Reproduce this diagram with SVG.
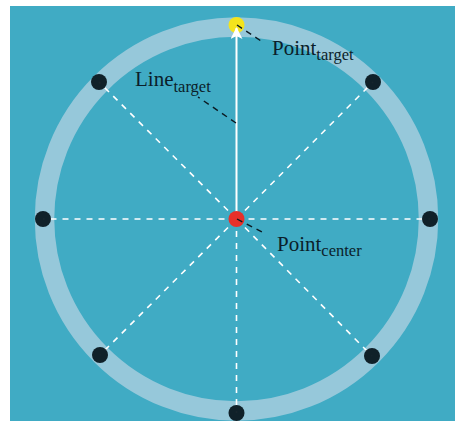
<svg xmlns="http://www.w3.org/2000/svg" width="455" height="421" viewBox="0 0 455 421">
<defs>
<style>
.spoke{stroke:#ffffff;stroke-width:1.6;stroke-dasharray:6 6;fill:none}
.lead{stroke:#0b1a22;stroke-width:1.4;stroke-dasharray:6 5;fill:none}
.dot{fill:#04121a;fill-opacity:0.92}
.lbl{font-family:"Liberation Serif","DejaVu Serif",serif;font-size:21px;fill:#0b1e2a}
.sub{font-size:16.5px}
</style>
<marker id="ah" viewBox="0 0 12 12" refX="11" refY="6" markerWidth="12" markerHeight="12" markerUnits="userSpaceOnUse" orient="auto">
<path d="M0,0 L12,6 L0,12 L3,6 Z" fill="#ffffff"/>
</marker>
</defs>
<rect x="10" y="6" width="445" height="415" fill="#40abc4"/>
<circle cx="236.5" cy="219" r="192" fill="none" stroke="#96c8da" stroke-width="19.5"/>
<g id="connectors">
<line class="spoke" x1="236.5" y1="219" x2="43" y2="219"/>
<line class="spoke" x1="236.5" y1="219" x2="430" y2="219"/>
<line class="spoke" x1="236.5" y1="219" x2="236.5" y2="413"/>
<line class="spoke" x1="236.5" y1="219" x2="99" y2="82"/>
<line class="spoke" x1="236.5" y1="219" x2="373" y2="82"/>
<line class="spoke" x1="236.5" y1="219" x2="100" y2="355"/>
<line class="spoke" x1="236.5" y1="219" x2="372" y2="356"/>
</g>
<g id="point-target"><circle cx="236.5" cy="25" r="8" fill="#f4e41c"/></g>
<g id="line-target-arrow">
<line x1="236.5" y1="219" x2="236.5" y2="28" stroke="#ffffff" stroke-width="2" marker-end="url(#ah)"/>
</g>
<g id="dots">
<circle class="dot" cx="43" cy="219" r="8"/>
<circle class="dot" cx="430" cy="219" r="8"/>
<circle class="dot" cx="236.5" cy="413" r="8"/>
<circle class="dot" cx="99" cy="82" r="8"/>
<circle class="dot" cx="373" cy="82" r="8"/>
<circle class="dot" cx="100" cy="355" r="8"/>
<circle class="dot" cx="372" cy="356" r="8"/>
</g>
<g id="point-center"><circle cx="236.5" cy="219" r="8" fill="#e8302a"/></g>
<g id="leaders">
<line class="lead" x1="237" y1="25" x2="261" y2="41"/>
<line class="lead" x1="236" y1="123" x2="198" y2="97"/>
<line class="lead" x1="237" y1="219" x2="264" y2="233"/>
</g>
<g id="label-point-target"><text class="lbl" x="272" y="55">Point<tspan class="sub" dy="5">target</tspan></text></g>
<g id="label-line-target"><text class="lbl" x="135" y="86">Line<tspan class="sub" dy="6">target</tspan></text></g>
<g id="label-point-center"><text class="lbl" x="277" y="250.5">Point<tspan class="sub" dy="5">center</tspan></text></g>
</svg>
